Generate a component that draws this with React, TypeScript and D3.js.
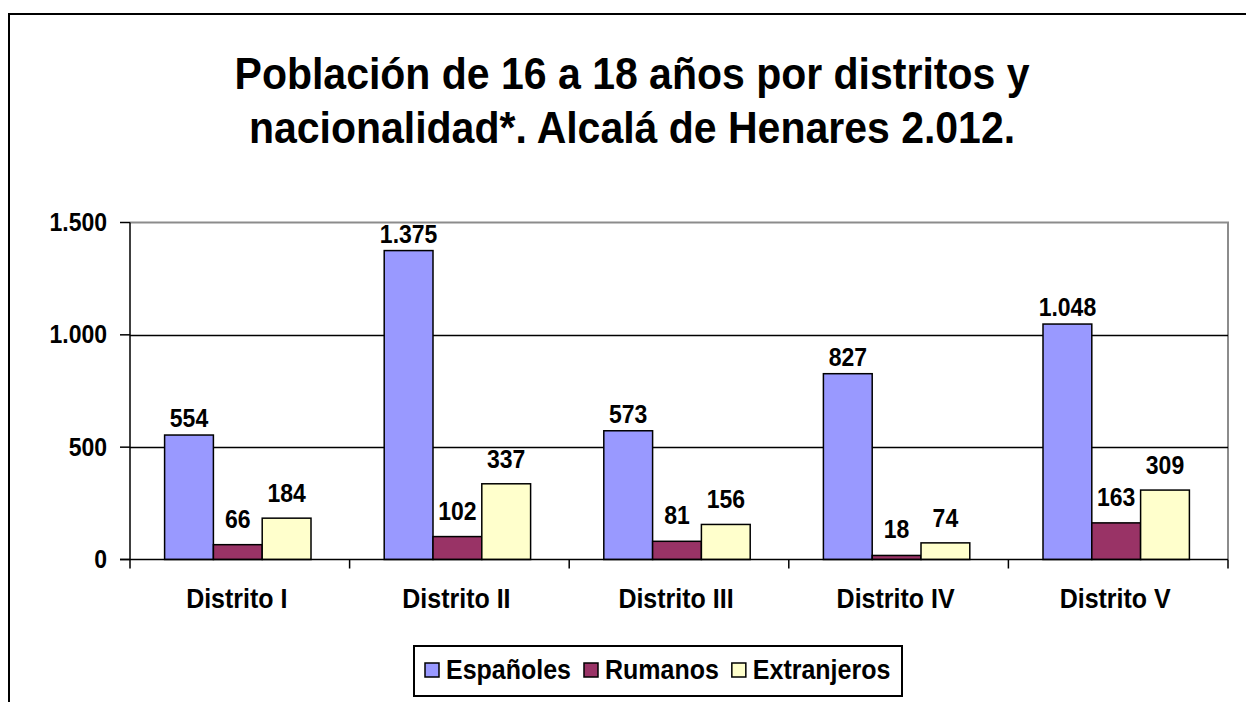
import React, { useEffect, useRef } from "react";
import * as d3 from "d3";

const titleLines = [
  "Población de 16 a 18 años por distritos y",
  "nacionalidad*. Alcalá de Henares 2.012.",
];
const districts = ["Distrito I", "Distrito II", "Distrito III", "Distrito IV", "Distrito V"];
const seriesNames = ["Españoles", "Rumanos", "Extranjeros"];
const seriesColors = ["#9999FF", "#993366", "#FFFFCC"];
const espanoles = [554, 1375, 573, 827, 1048];
const rumanos = [66, 102, 81, 18, 163];
const extranjeros = [184, 337, 156, 74, 309];
const yTicks = [0, 500, 1000, 1500];

const seriesValues = [espanoles, rumanos, extranjeros];
const FONT = "'Liberation Sans', Arial, sans-serif";
const SY = 1.1;

const fmt = (v: number) => String(v).replace(/\B(?=(\d{3})+(?!\d))/g, ".");

export default function App() {
  const ref = useRef<SVGSVGElement | null>(null);

  useEffect(() => {
    const svg = d3.select(ref.current);
    svg.selectAll("*").remove();

    const W = 1246, H = 702;
    const plot = { left: 130, right: 1228, top: 222.5, bottom: 559.5 };

    svg.append("rect").attr("x", 0).attr("y", 0).attr("width", W).attr("height", H).attr("fill", "#fff");

    svg.append("path")
      .attr("d", `M9,${H} L9,14 L${W},14`)
      .attr("fill", "none").attr("stroke", "#000").attr("stroke-width", 2);

    const title = svg.append("g").attr("font-family", FONT).attr("font-weight", "bold")
      .attr("font-size", 41).attr("text-anchor", "middle").attr("fill", "#000");
    titleLines.forEach((t, i) => {
      title.append("text")
        .attr("transform", `translate(632,${89 + i * 54}) scale(1,1.08)`)
        .text(t);
    });

    const x0 = d3.scaleBand<string>().domain(districts).range([plot.left, plot.right]);
    const groupW = x0.bandwidth() * (3 / 4.5);
    const x1 = d3.scaleBand<string>().domain(seriesNames).range([0, groupW]);
    const groupOffset = (x0.bandwidth() - groupW) / 2 - 2;

    const y = d3.scaleLinear().domain([0, 1500]).range([plot.bottom, plot.top]);

    svg.append("path")
      .attr("d", `M${plot.left},${plot.top} L${plot.right},${plot.top} L${plot.right},${plot.bottom}`)
      .attr("fill", "none").attr("stroke", "#8c8c8c").attr("stroke-width", 2);

    svg.append("g").selectAll("line").data(yTicks.filter(t => t > 0 && t < 1500)).join("line")
      .attr("x1", plot.left).attr("x2", plot.right)
      .attr("y1", d => Math.round(y(d)) + 0.5).attr("y2", d => Math.round(y(d)) + 0.5)
      .attr("stroke", "#000").attr("stroke-width", 1.5);

    const bars = svg.append("g");
    seriesValues.forEach((vals, si) => {
      bars.selectAll(null).data(vals).join("rect")
        .attr("x", (d, i) => (x0(districts[i]) as number) + groupOffset + (x1(seriesNames[si]) as number))
        .attr("y", d => y(d))
        .attr("width", x1.bandwidth())
        .attr("height", d => y(0) - y(d))
        .attr("fill", seriesColors[si])
        .attr("stroke", "#000").attr("stroke-width", 1.5);
    });

    const yAxis = svg.append("g");
    yAxis.append("line").attr("x1", plot.left).attr("x2", plot.left)
      .attr("y1", plot.top).attr("y2", plot.bottom).attr("stroke", "#000").attr("stroke-width", 1.5);
    yAxis.selectAll("line.tick").data(yTicks).join("line").attr("class", "tick")
      .attr("x1", plot.left - 10).attr("x2", plot.left)
      .attr("y1", d => y(d)).attr("y2", d => y(d)).attr("stroke", "#000").attr("stroke-width", 1.5);
    yAxis.selectAll("text").data(yTicks).join("text")
      .attr("transform", d => `translate(107,${y(d) + 8.5}) scale(1,${SY})`)
      .attr("text-anchor", "end").attr("font-family", FONT).attr("font-weight", "bold")
      .attr("font-size", 23).text(d => fmt(d));

    const xAxis = svg.append("g");
    xAxis.append("line").attr("x1", plot.left - 10).attr("x2", plot.right)
      .attr("y1", plot.bottom).attr("y2", plot.bottom).attr("stroke", "#000").attr("stroke-width", 1.5);
    const bounds = districts.map(d => x0(d) as number).concat([plot.right]);
    xAxis.selectAll("line.tick").data(bounds).join("line").attr("class", "tick")
      .attr("x1", d => d).attr("x2", d => d)
      .attr("y1", plot.bottom).attr("y2", plot.bottom + 9).attr("stroke", "#000").attr("stroke-width", 1.5);
    xAxis.selectAll("text").data(districts).join("text")
      .attr("transform", d => `translate(${(x0(d) as number) + x0.bandwidth() / 2 - 3},608) scale(1,${SY})`)
      .attr("text-anchor", "middle").attr("font-family", FONT).attr("font-weight", "bold")
      .attr("font-size", 25).text(d => d);

    const labels = svg.append("g").attr("font-family", FONT).attr("font-weight", "bold")
      .attr("font-size", 23).attr("text-anchor", "middle");
    const labelGap = [8, 17, 16];
    seriesValues.forEach((vals, si) => {
      labels.selectAll(null).data(vals).join("text")
        .attr("transform", (d, i) => {
          const cx = (x0(districts[i]) as number) + groupOffset + (x1(seriesNames[si]) as number) + x1.bandwidth() / 2;
          return `translate(${cx},${y(d) - labelGap[si]}) scale(1,${SY})`;
        })
        .text(d => fmt(d));
    });

    const lg = svg.append("g");
    lg.append("rect").attr("x", 414).attr("y", 646).attr("width", 488).attr("height", 50)
      .attr("fill", "#fff").attr("stroke", "#000").attr("stroke-width", 2);
    let lx = 425;
    seriesNames.forEach((name, i) => {
      lg.append("rect").attr("x", lx).attr("y", 663).attr("width", 14).attr("height", 14)
        .attr("fill", seriesColors[i]).attr("stroke", "#000").attr("stroke-width", 1.5);
      const t = lg.append("text").attr("transform", `translate(${lx + 21},679) scale(1,${SY})`)
        .attr("font-family", FONT).attr("font-weight", "bold").attr("font-size", 25).text(name);
      const w = (t.node() as SVGTextElement).getComputedTextLength();
      lx = lx + 21 + w + 13;
    });
  }, []);

  return (
    <svg ref={ref} width={1246} height={702}
      style={{ position: "absolute", left: 0, top: 0, display: "block" }} />
  );
}
